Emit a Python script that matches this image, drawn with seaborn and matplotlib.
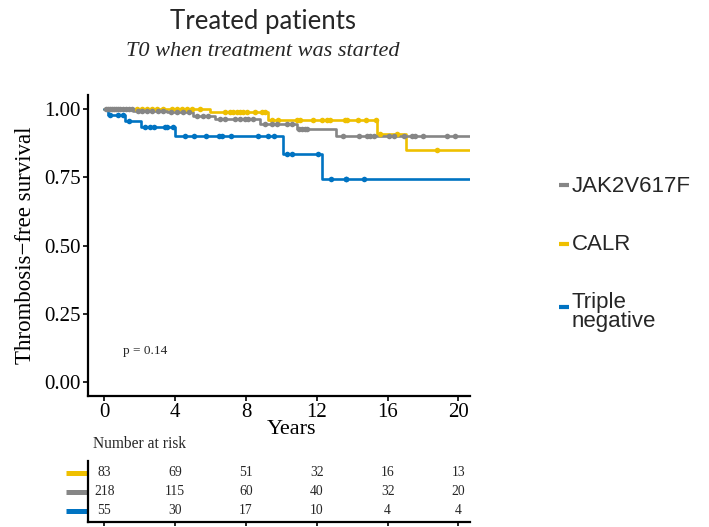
import numpy as np
import pandas as pd
import matplotlib
matplotlib.use("Agg")
import matplotlib.pyplot as plt
import matplotlib.transforms as mtransforms
import seaborn as sns

# Kaplan-Meier step curves (time in years, survival probability)
jak2_t = [0, 1.61, 3.51, 5.0, 6.24, 8.79, 10.88, 13.08, 21]
jak2_s = [1.0, 0.994, 0.988, 0.976, 0.964, 0.945, 0.925, 0.900, 0.900]
calr_t = [0, 5.96, 9.25, 15.38, 17.02, 21]
calr_s = [1.0, 0.988, 0.961, 0.908, 0.849, 0.849]
tn_t = [0, 0.21, 1.16, 2.05, 3.98, 10.1, 12.27, 21]
tn_s = [1.0, 0.978, 0.957, 0.933, 0.902, 0.835, 0.742, 0.742]

# Censoring times
jak2_cens = [0.08, 0.2, 0.31, 0.42, 0.54, 0.65, 0.76, 0.88, 1.05, 1.21, 1.38, 1.55,
             1.89, 2.12, 2.4, 2.68, 3.02, 3.31, 3.76, 4.1, 4.44, 4.77,
             5.23, 5.56, 5.86, 6.53, 6.81, 7.37, 7.66, 7.94, 8.12, 8.41,
             9.07, 9.45, 9.73, 10.29, 10.58, 11.0, 11.14, 11.33, 11.46,
             13.49, 14.38, 14.85, 15.0, 15.24, 16.09, 16.37, 16.92, 17.36,
             17.54, 18.01, 19.33, 19.8]
calr_cens = [1.84, 2.12, 2.4, 2.68, 2.97, 3.31, 3.81, 4.1, 4.38, 4.66, 4.94, 5.4,
             6.81, 7.09, 7.28, 7.47, 7.66, 7.84, 8.03, 8.5, 8.88, 9.07,
             9.45, 9.82, 10.86, 11.05, 11.8, 12.27, 12.55, 12.74, 13.59, 13.68,
             14.34, 14.77, 15.34, 15.56, 16.51, 18.8]
tn_cens = [0.29, 0.76, 1.05, 1.39, 2.29, 2.57, 2.8, 3.43, 3.56, 3.9,
           4.57, 5.05, 5.71, 6.47, 6.63, 7.14, 8.67, 9.24, 9.58,
           10.34, 10.61, 12.06, 12.82, 13.62, 13.67, 14.67]

# Number at risk table
risk_times = [0, 4, 8, 12, 16, 20]
risk_calr = [83, 69, 51, 32, 16, 13]
risk_jak2 = [218, 115, 60, 40, 32, 20]
risk_tn = [55, 30, 17, 10, 4, 4]

groups = ["JAK2V617F", "CALR", "Triple negative"]
legend_labels = ["JAK2V617F", "CALR", "Triple\nnegative"]
palette = {"JAK2V617F": "#868686", "CALR": "#EFC000", "Triple negative": "#0073C2"}

sns.set_theme(style="white")
plt.rcParams["font.family"] = ["Liberation Serif", "DejaVu Serif"]


def step_value(ts, ss, t):
    idx = np.searchsorted(ts, t, side="right") - 1
    return ss[idx]


curves = []
cens = []
for g, ts, ss, cs in [("CALR", calr_t, calr_s, calr_cens),
                      ("JAK2V617F", jak2_t, jak2_s, jak2_cens),
                      ("Triple negative", tn_t, tn_s, tn_cens)]:
    curves.append(pd.DataFrame({"time": ts, "surv": ss, "group": g}))
    cens.append(pd.DataFrame({"time": cs,
                              "surv": [step_value(ts, ss, c) for c in cs],
                              "group": g}))
curves = pd.concat(curves, ignore_index=True)
cens = pd.concat(cens, ignore_index=True)

fig = plt.figure(figsize=(7.09, 5.27), dpi=100)
ax = fig.add_axes([0.1241, 0.2486, 0.5388, 0.5706])

draw_order = ["CALR", "JAK2V617F", "Triple negative"]
for g in draw_order:
    sub = curves[curves.group == g]
    sns.lineplot(data=sub, x="time", y="surv", color=palette[g], lw=1.9,
                 drawstyle="steps-post", estimator=None, sort=False, ax=ax,
                 legend=False)
    csub = cens[cens.group == g]
    sns.scatterplot(data=csub, x="time", y="surv", color=palette[g], s=16,
                    linewidth=0, ax=ax, legend=False, zorder=3)

ax.set_xlim(-0.93, 20.65)
ax.set_ylim(-0.05, 1.05)
ax.set_xticks([0, 4, 8, 12, 16, 20])
ax.set_yticks([0, 0.25, 0.5, 0.75, 1.0])
ax.set_yticklabels(["0.00", "0.25", "0.50", "0.75", "1.00"])
for side in ["top", "right"]:
    ax.spines[side].set_visible(False)
for side in ["left", "bottom"]:
    ax.spines[side].set_color("black")
    ax.spines[side].set_linewidth(1.6)
ax.tick_params(axis="both", which="major", direction="out", length=3.5,
               width=1.2, color="black", labelsize=15, labelcolor="black", pad=1.5,
               left=True, bottom=True)
ax.set_xlabel("Years", fontsize=16, color="black")
ax.xaxis.set_label_coords(0.533, -0.08)
ax.set_ylabel("Thrombosis\u2212free survival", fontsize=16.5, color="black", labelpad=6)
ax.text(1.05, 0.116, "p = 0.14", fontsize=9.5, va="center", ha="left")

# Legend
for i, (g, lab) in enumerate(zip(groups, legend_labels)):
    ypix = [185, 244, 307][i]
    typix = [186, 245, 312][i]
    yf = 1 - ypix / 527
    fig.add_artist(plt.Line2D([559 / 709, 569 / 709], [yf, yf],
                              color=palette[g], lw=3.0, solid_capstyle="butt",
                              transform=fig.transFigure))
    fig.text(572 / 709, 1 - typix / 527, lab, fontsize=16,
             family=["Liberation Sans", "DejaVu Sans"], va="center", ha="left",
             linespacing=0.85)

# Titles
fig.text(263 / 709, 1 - 22 / 527, "Treated patients", fontsize=18.5,
         family=["Lato", "DejaVu Sans"], ha="center", va="center")
fig.text(263 / 709, 1 - 51 / 527, "T0 when treatment was started", fontsize=16,
         style="italic", ha="center", va="center")

# Number at risk table
fig.text(93 / 709, 1 - 444 / 527, "Number at risk", fontsize=11.2, va="center", ha="left")
tax = fig.add_axes([0.1241, 0.0100, 0.5388, 0.1157])
rows = [("CALR", risk_calr, 3), ("JAK2V617F", risk_jak2, 2), ("Triple negative", risk_tn, 1)]
table = pd.concat([pd.DataFrame({"time": risk_times, "n": vals, "row": r, "group": g})
                   for g, vals, r in rows], ignore_index=True)
for _, rec in table.iterrows():
    tax.text(rec.time, rec.row, str(rec.n), ha="center", va="center", fontsize=9.8)
tax.set_xlim(-0.93, 20.65)
tax.set_ylim(0.44, 3.62)
tax.set_xticks(risk_times)
tax.set_xticklabels([])
tax.set_yticks([])
for side in ["top", "right"]:
    tax.spines[side].set_visible(False)
for side in ["left", "bottom"]:
    tax.spines[side].set_color("black")
    tax.spines[side].set_linewidth(1.6)
tax.tick_params(axis="x", direction="out", length=3, width=1.2, color="black",
                bottom=True)

# Coloured row keys to the left of the table
key_tr = mtransforms.blended_transform_factory(tax.transAxes, tax.transData)
for g, _, r in rows:
    tax.plot([-0.058, 0.0], [r, r], color=palette[g], lw=3.6,
             solid_capstyle="butt", transform=key_tr, clip_on=False, zorder=1)

fig.savefig("out.png", dpi=100)
